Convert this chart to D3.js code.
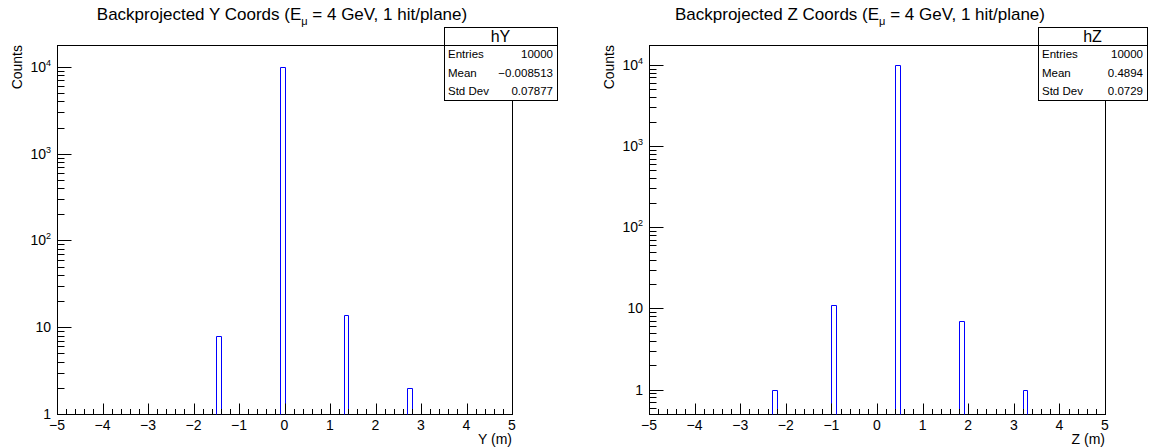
<!DOCTYPE html>
<html><head><meta charset="utf-8">
<script src="https://cdn.jsdelivr.net/npm/d3@7"></script>
<style>
body{margin:0;background:#fff}
svg{display:block}
text{font-family:"Liberation Sans",Arial,Helvetica,sans-serif;fill:#000}
</style>
</head><body>
<svg id="c" width="1151" height="448"></svg>
<script>
// Histogram contents (bin lower edges, bin width 0.1 m) and stats
const binWidth = 0.1;
const xRange = [-5, 5];
const xMajorTicks = [-5, -4, -3, -2, -1, 0, 1, 2, 3, 4, 5];
const yBinLow = [-1.5, -0.1, 1.3, 2.7];
const yCounts = [8, 9976, 14, 2];
const zBinLow = [-2.3, -1.0, 0.4, 1.8, 3.2];
const zCounts = [1, 11, 9980, 7, 1];
const statNames = ["Entries", "Mean", "Std Dev"];
const yStats = ["10000", "\u22120.008513", "0.07877"];
const zStats = ["10000", "0.4894", "0.0729"];
const histNames = ["hY", "hZ"];
const titleHeads = ["Backprojected Y Coords (E", "Backprojected Z Coords (E"];
const titleTail = " = 4 GeV, 1 hit/plane)";
const xTitles = ["Y (m)", "Z (m)"];
const yTitle = "Counts";

const svg = d3.select("#c");

const panels = [
  {frame: {l: 57, r: 512, t: 45, b: 414}, yDomain: [1, Math.pow(10, 4.253)],
   lows: yBinLow, counts: yCounts, stats: yStats, name: histNames[0],
   head: titleHeads[0], xTitle: xTitles[0], cx: 282, box: {l: 444, r: 557}},
  {frame: {l: 649, r: 1105, t: 45, b: 414}, yDomain: [0.5, Math.pow(10, 4.245)],
   lows: zBinLow, counts: zCounts, stats: zStats, name: histNames[1],
   head: titleHeads[1], xTitle: xTitles[1], cx: 860, box: {l: 1038, r: 1147}}
];

panels.forEach(p => {
  const f = p.frame;
  const g = svg.append("g");
  const x = d3.scaleLinear().domain(xRange).range([f.l, f.r]);
  const y = d3.scaleLog().domain(p.yDomain).range([f.b, f.t]);

  // frame
  g.append("rect").attr("x", f.l + 0.5).attr("y", f.t + 0.5)
    .attr("width", f.r - f.l).attr("height", f.b - f.t)
    .attr("fill", "none").attr("stroke", "#000").attr("stroke-width", 1);

  // histogram outline (bins as open boxes)
  const bars = p.lows.map((lo, i) => ({lo, c: p.counts[i]}));
  g.selectAll("path.bin").data(bars).enter().append("path")
    .attr("class", "bin")
    .attr("d", d => {
      const x0 = Math.round(x(d.lo)) + 0.5, x1 = Math.round(x(d.lo + binWidth)) + 0.5;
      const yt = Math.round(y(d.c)) + 0.5, yb = f.b + 0.5;
      return `M${x0},${yb}L${x0},${yt}L${x1},${yt}L${x1},${yb}`;
    })
    .attr("fill", "none").attr("stroke", "#0000ff").attr("stroke-width", 1);

  // x axis ticks: majors every 1, minors every 0.2
  const minor = d3.range(xRange[0], xRange[1] + 1e-9, 0.2).map(v => Math.round(v * 10) / 10);
  g.selectAll("line.xt").data(minor).enter().append("line")
    .attr("x1", d => Math.round(x(d)) + 0.5).attr("x2", d => Math.round(x(d)) + 0.5)
    .attr("y1", f.b + 0.5)
    .attr("y2", d => f.b + 0.5 - (Math.abs(d - Math.round(d)) < 1e-6 ? 11 : 5.5))
    .attr("stroke", "#000").attr("stroke-width", 1);
  g.selectAll("text.xl").data(xMajorTicks).enter().append("text")
    .attr("x", d => x(d)).attr("y", 430)
    .attr("text-anchor", "middle").attr("font-size", 14)
    .text(d => d < 0 ? "\u2212" + Math.abs(d) : String(d));

  // y axis (log) ticks
  const [y0, y1] = p.yDomain;
  const yt = [];
  for (let d = Math.floor(Math.log10(y0)); d <= Math.ceil(Math.log10(y1)); d++) {
    for (let k = 1; k <= 9; k++) {
      const v = k * Math.pow(10, d);
      if (v >= y0 * 0.9999 && v <= y1) yt.push({v, major: k === 1, d});
    }
  }
  g.selectAll("line.yt").data(yt).enter().append("line")
    .attr("x1", f.l + 0.5).attr("x2", d => f.l + 0.5 + (d.major ? 14 : 7))
    .attr("y1", d => Math.round(y(d.v)) + 0.5).attr("y2", d => Math.round(y(d.v)) + 0.5)
    .attr("stroke", "#000").attr("stroke-width", 1);
  const ylab = yt.filter(d => d.major);
  ylab.forEach(d => {
    const yy = y(d.v) + 5;
    if (d.d <= 1) {
      g.append("text").attr("x", f.l - 6).attr("y", yy).attr("text-anchor", "end")
        .attr("font-size", 14).text(d.d === 0 ? "1" : "10");
    } else {
      const t = g.append("text").attr("x", f.l - 6).attr("y", yy).attr("text-anchor", "end")
        .attr("font-size", 14);
      t.append("tspan").text("10");
      t.append("tspan").attr("font-size", 9).attr("dy", -6).text(d.d);
    }
  });

  // axis titles
  g.append("text").attr("x", f.r).attr("y", 444).attr("text-anchor", "end")
    .attr("font-size", 14).text(p.xTitle);
  g.append("text").attr("transform", `translate(${f.l - 35},${f.t}) rotate(-90)`)
    .attr("text-anchor", "end").attr("font-size", 14).text(yTitle);

  // title with subscript mu
  const tt = g.append("text").attr("x", p.cx).attr("y", 20).attr("text-anchor", "middle")
    .attr("font-size", 17);
  tt.append("tspan").text(p.head);
  tt.append("tspan").attr("font-size", 11).attr("dy", 5).text("\u03bc");
  tt.append("tspan").attr("dy", -5).text(titleTail);

  // statistics box
  const b = p.box, bt = 27, bh = 45, bb = 100;
  g.append("rect").attr("x", b.l + 0.5).attr("y", bt + 0.5)
    .attr("width", b.r - b.l).attr("height", bb - bt)
    .attr("fill", "#fff").attr("stroke", "#000");
  g.append("line").attr("x1", b.l).attr("x2", b.r).attr("y1", bh + 0.5).attr("y2", bh + 0.5)
    .attr("stroke", "#000");
  g.append("text").attr("x", (b.l + b.r) / 2).attr("y", 42).attr("text-anchor", "middle")
    .attr("font-size", 16).text(p.name);
  const rowY = d3.scaleBand().domain(statNames).range([bh, bb]);
  g.selectAll("text.sn").data(statNames).enter().append("text")
    .attr("x", b.l + 4).attr("y", d => rowY(d) + rowY.bandwidth() / 2 + 4)
    .attr("font-size", 11.5).text(d => d);
  g.selectAll("text.sv").data(p.stats).enter().append("text")
    .attr("x", b.r - 4).attr("y", (d, i) => rowY(statNames[i]) + rowY.bandwidth() / 2 + 4)
    .attr("text-anchor", "end").attr("font-size", 11.5).text(d => d);
});
</script>
</body></html>
